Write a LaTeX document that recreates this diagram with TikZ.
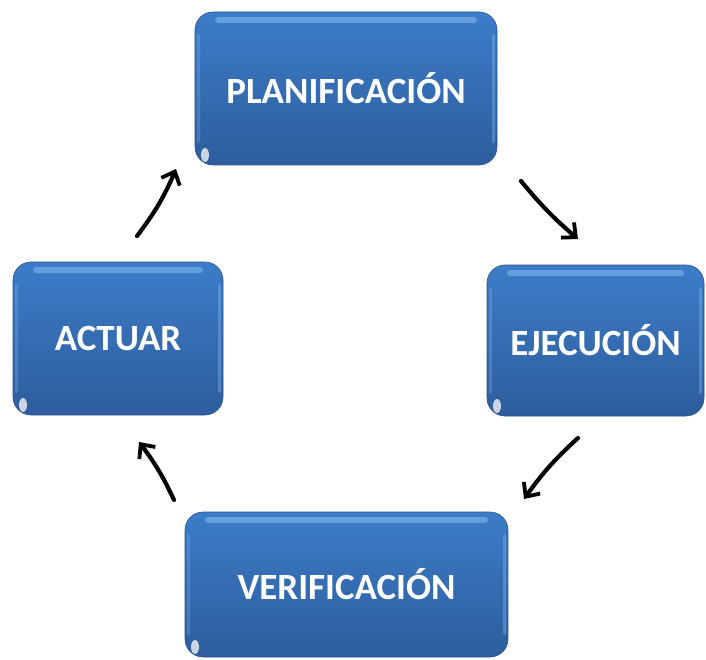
\documentclass[tikz,border=0pt]{standalone}
\usepackage{fontspec}
\setmainfont{Carlito}
\usetikzlibrary{arrows.meta}
\definecolor{btop}{HTML}{3D7CC9}
\definecolor{bbot}{HTML}{2D5D9C}
\definecolor{bhi}{HTML}{8FC3F5}
\tikzset{
  phase/.style={rounded corners=18pt, top color=btop, bottom color=bbot,
    draw=bbot!90!black, line width=0.6pt,
    font=\fontsize{37}{40}\selectfont\bfseries, text=white, inner sep=0pt,
    path picture={
      \fill[bhi,opacity=0.5,rounded corners=3pt]
        ([xshift=20pt,yshift=-5pt]path picture bounding box.north west)
        rectangle ([xshift=-20pt,yshift=-11pt]path picture bounding box.north east);
      \fill[bhi,opacity=0.25,rounded corners=2pt]
        ([xshift=2pt,yshift=-22pt]path picture bounding box.north west)
        rectangle ([xshift=5pt,yshift=22pt]path picture bounding box.south west);
      \fill[bhi,opacity=0.35,rounded corners=2pt]
        ([xshift=-2pt,yshift=-22pt]path picture bounding box.north east)
        rectangle ([xshift=-5pt,yshift=22pt]path picture bounding box.south east);
      \fill[white,opacity=0.75]
        ([xshift=10pt,yshift=10pt]path picture bounding box.south west) ellipse (4pt and 7pt);
    }},
  cyc/.style={line width=4.2pt, line cap=round,
    -{Straight Barb[length=11pt,width=20pt,line width=3.8pt]}}
}
\begin{document}
\begin{tikzpicture}[x=1pt,y=-1pt]
\useasboundingbox (0,0) rectangle (706,660);
\node[phase, minimum width=302pt, minimum height=153pt] (plan) at (346,88.5) {PLANIFICACIÓN};
\node[phase, minimum width=217pt, minimum height=151pt] (ejec) at (595.5,340.5) {EJECUCIÓN};
\node[phase, minimum width=210pt, minimum height=153pt] (act) at (118,338.5) {ACTUAR};
\node[phase, minimum width=323pt, minimum height=145pt] (ver) at (346.5,584.5) {VERIFICACIÓN};
\coordinate (a1s) at (521,181);
\coordinate (a1e) at (578,239);
\coordinate (a2s) at (578,438);
\coordinate (a2e) at (524,499);
\coordinate (a3s) at (174,500);
\coordinate (a3e) at (139,442);
\coordinate (a4s) at (137,236);
\coordinate (a4e) at (176,169);
\draw[cyc] (a1s) to[bend right=5] (a1e);
\draw[cyc] (a2s) to[bend right=6] (a2e);
\draw[cyc] (a3s) to[bend right=6] (a3e);
\draw[cyc] (a4s) to[bend right=7] (a4e);
\end{tikzpicture}
\end{document}
